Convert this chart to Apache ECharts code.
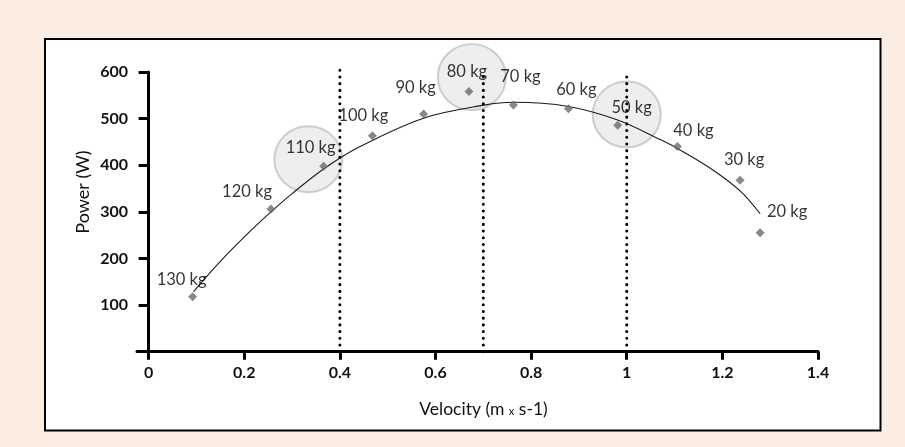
<!DOCTYPE html>
<html>
<head>
<meta charset="utf-8">
<style>
  html, body { margin: 0; padding: 0; background: #fcede3; }
  #chart { width: 905px; height: 447px; }
</style>
<script src="https://cdn.jsdelivr.net/npm/echarts@6/dist/echarts.min.js"></script>
</head>
<body>
<div id="chart"></div>
<script>
// Power output per load, measured against bar velocity
const loadLabels = ['130 kg', '120 kg', '110 kg', '100 kg', '90 kg', '80 kg', '70 kg', '60 kg', '50 kg', '40 kg', '30 kg', '20 kg'];
const velocity = [0.092, 0.256, 0.366, 0.468, 0.575, 0.670, 0.763, 0.878, 0.981, 1.106, 1.237, 1.279];
const power = [118, 306, 398, 463, 510, 558, 529, 521, 486, 440, 368, 255];

// Trend curve through the load-power data
const curveVelocity = [0.094, 0.15, 0.216, 0.256, 0.30, 0.366, 0.442, 0.575, 0.702, 0.763, 0.878, 0.981, 1.07, 1.106, 1.174, 1.237, 1.279];
const curvePower = [129, 194, 262, 300, 339, 392, 440, 501, 529, 535, 526, 497, 455, 436, 394, 345, 296];

// Velocity zone boundaries (and how high each dotted line reaches)
const zoneVelocity = [0.4, 0.7, 1.0];
const zoneTop = [615, 594, 600];

// Highlighted loads (circle centres)
const highlightVelocity = [0.334, 0.676, 1.0];
const highlightPower = [413, 589, 509];

// Axis ticks
const xTicks = [0, 0.2, 0.4, 0.6, 0.8, 1, 1.2, 1.4];
const yTicks = [100, 200, 300, 400, 500, 600];

// Label placement around each marker, in pixels
const labelOffsets = [[-11, -17], [-24, -17], [-13, -18], [-9, -20], [-8, -26], [-2, -20], [7, -28], [8, -19], [14, -17], [16, -16], [4, -20], [27, -21]];

const FONT = 'Lato, "Open Sans", sans-serif';
const chart = echarts.init(document.getElementById('chart'));

const zoneSeries = zoneVelocity.map((v, i) => ({
  type: 'line',
  data: [[v, 0], [v, zoneTop[i]]],
  symbol: 'none',
  clip: false,
  silent: true,
  z: 3,
  lineStyle: { color: '#000', width: 3, type: [0.1, 6.6], cap: 'round' }
}));

chart.setOption({
  animation: false,
  backgroundColor: '#fcede3',
  textStyle: { fontFamily: FONT },
  graphic: [
    {
      type: 'rect',
      shape: { x: 45, y: 39, width: 835.5, height: 391.5 },
      style: { fill: '#ffffff', stroke: '#000000', lineWidth: 2 },
      z: -10,
      silent: true
    },
    {
      // vertical axis title
      type: 'text',
      x: 83,
      y: 192,
      rotation: Math.PI / 2,
      silent: true,
      style: {
        text: 'Power (W)',
        fill: '#111',
        font: '18px ' + FONT,
        align: 'center',
        verticalAlign: 'middle'
      }
    }
  ],
  grid: { left: 137, right: 87, top: 72, bottom: 95.3, containLabel: false },
  xAxis: {
    type: 'value',
    min: -0.0243,
    max: 1.4,
    splitLine: { show: false },
    axisLine: { onZero: false, lineStyle: { color: '#000', width: 3 } },
    axisTick: { customValues: xTicks, length: 8, lineStyle: { color: '#000', width: 3 } },
    axisLabel: {
      customValues: xTicks,
      margin: 13,
      color: '#111',
      fontSize: 16,
      fontWeight: 'bold',
      fontFamily: FONT,
      formatter: v => String(+v.toFixed(1))
    },
    name: '{t|Velocity (m }{s|x}{t| s-1)}',
    nameLocation: 'middle',
    nameGap: 49,
    nameTextStyle: {
      padding: [0, 0, 0, 12],
      rich: {
        t: { fontSize: 17.5, color: '#111', fontFamily: FONT },
        s: { fontSize: 11, color: '#111', fontFamily: FONT, padding: [3, 0, 0, 0] }
      }
    }
  },
  yAxis: {
    type: 'value',
    min: 0,
    max: 600,
    interval: 100,
    splitLine: { show: false },
    axisLine: { onZero: true, lineStyle: { color: '#000', width: 3 } },
    axisTick: { length: 10, lineStyle: { color: '#000', width: 3 } },
    axisLabel: {
      showMinLabel: false,
      margin: 9,
      color: '#111',
      fontSize: 16,
      fontWeight: 'bold',
      fontFamily: FONT,
      formatter: v => (yTicks.includes(v) ? String(v) : '')
    }
  },
  series: [
    {
      type: 'scatter',
      data: highlightVelocity.map((v, i) => [v, highlightPower[i]]),
      symbol: 'circle',
      symbolSize: [68, 66],
      clip: false,
      silent: true,
      z: 1,
      itemStyle: { color: 'rgba(200,200,200,0.38)', borderColor: 'rgba(185,185,185,0.85)', borderWidth: 2 }
    },
    ...zoneSeries,
    {
      type: 'line',
      data: curveVelocity.map((v, i) => [v, curvePower[i]]),
      symbol: 'none',
      smooth: 0.35,
      clip: false,
      silent: true,
      z: 4,
      lineStyle: { color: '#1a1a1a', width: 1.1 }
    },
    {
      type: 'scatter',
      data: velocity.map((v, i) => ({
        value: [v, power[i]],
        name: loadLabels[i],
        label: { offset: labelOffsets[i] }
      })),
      symbol: 'diamond',
      symbolSize: 9,
      clip: false,
      z: 5,
      itemStyle: { color: '#6a6a6a' },
      label: {
        show: true,
        position: 'inside',
        formatter: p => p.name,
        color: '#000',
        textBorderWidth: 0,
        textBorderColor: 'transparent',
        fontSize: 16.5,
        fontFamily: FONT
      }
    }
  ]
});
</script>
</body>
</html>
